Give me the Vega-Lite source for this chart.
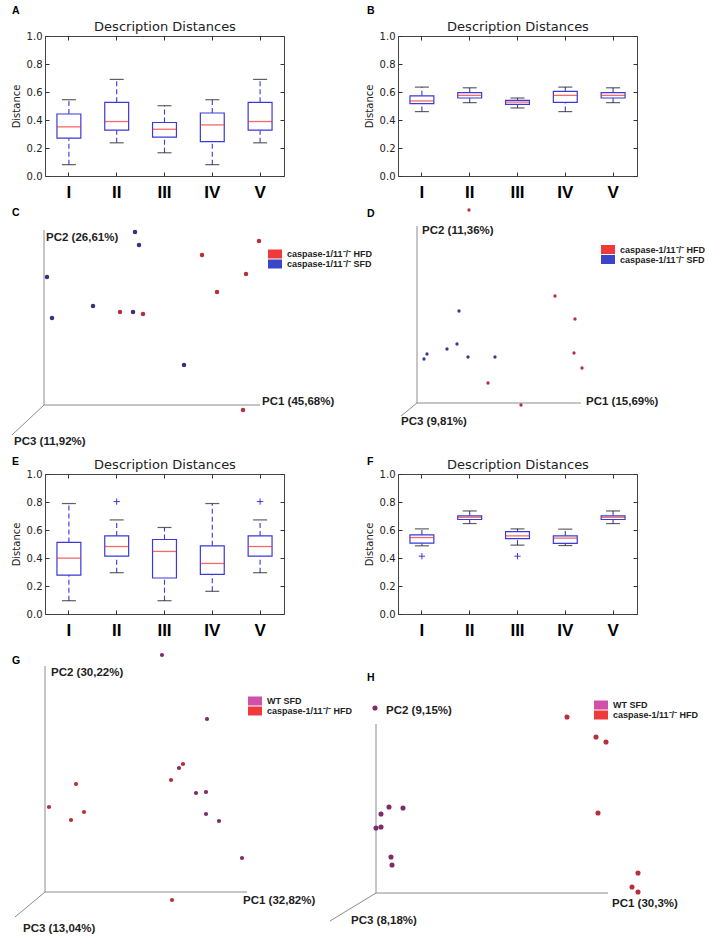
{
"$schema": "https://vega.github.io/schema/vega-lite/v6.json",
"background": "white",
"padding": {"left": 10, "top": 5, "right": 0, "bottom": 0},
"columns": 2,
"spacing": {"row": 26, "column": 114},
"bounds": "flush",
"align": "each",
"resolve": {"scale": {"color": "independent", "fill": "independent"}, "legend": {"color": "independent", "fill": "independent"}},
"datasets": {
"boxes": [
{"panel":"A","group":"I","min":0.081,"q1":0.270,"median":0.351,"q3":0.443,"max":0.545},
{"panel":"A","group":"II","min":0.237,"q1":0.327,"median":0.389,"q3":0.526,"max":0.690},
{"panel":"A","group":"III","min":0.166,"q1":0.277,"median":0.334,"q3":0.382,"max":0.502},
{"panel":"A","group":"IV","min":0.081,"q1":0.246,"median":0.365,"q3":0.450,"max":0.545},
{"panel":"A","group":"V","min":0.237,"q1":0.327,"median":0.389,"q3":0.526,"max":0.690},
{"panel":"B","group":"I","min":0.460,"q1":0.517,"median":0.536,"q3":0.573,"max":0.635},
{"panel":"B","group":"II","min":0.524,"q1":0.557,"median":0.576,"q3":0.595,"max":0.630},
{"panel":"B","group":"III","min":0.486,"q1":0.512,"median":0.528,"q3":0.540,"max":0.557},
{"panel":"B","group":"IV","min":0.460,"q1":0.526,"median":0.576,"q3":0.604,"max":0.635},
{"panel":"B","group":"V","min":0.524,"q1":0.557,"median":0.576,"q3":0.595,"max":0.630},
{"panel":"E","group":"I","min":0.095,"q1":0.278,"median":0.399,"q3":0.511,"max":0.789},
{"panel":"E","group":"II","min":0.295,"q1":0.413,"median":0.482,"q3":0.558,"max":0.672},
{"panel":"E","group":"III","min":0.095,"q1":0.257,"median":0.447,"q3":0.532,"max":0.618},
{"panel":"E","group":"IV","min":0.162,"q1":0.283,"median":0.361,"q3":0.487,"max":0.789},
{"panel":"E","group":"V","min":0.295,"q1":0.413,"median":0.482,"q3":0.558,"max":0.672},
{"panel":"F","group":"I","min":0.487,"q1":0.506,"median":0.546,"q3":0.565,"max":0.608},
{"panel":"F","group":"II","min":0.646,"q1":0.675,"median":0.691,"q3":0.701,"max":0.736},
{"panel":"F","group":"III","min":0.492,"q1":0.539,"median":0.558,"q3":0.589,"max":0.608},
{"panel":"F","group":"IV","min":0.489,"q1":0.504,"median":0.542,"q3":0.558,"max":0.606},
{"panel":"F","group":"V","min":0.646,"q1":0.675,"median":0.691,"q3":0.701,"max":0.736}
],
"outliers": [
{"panel":"E","group":"II","value":0.803},
{"panel":"E","group":"V","value":0.803},
{"panel":"F","group":"I","value":0.413},
{"panel":"F","group":"III","value":0.413}
],
"pca": [
{"panel":"C","group":"caspase-1/11⁻/⁻ SFD","pc1":0.91,"pc2":1.73},
{"panel":"C","group":"caspase-1/11⁻/⁻ SFD","pc1":0.95,"pc2":1.60},
{"panel":"C","group":"caspase-1/11⁻/⁻ SFD","pc1":0.03,"pc2":1.28},
{"panel":"C","group":"caspase-1/11⁻/⁻ SFD","pc1":0.49,"pc2":0.99},
{"panel":"C","group":"caspase-1/11⁻/⁻ SFD","pc1":0.08,"pc2":0.87},
{"panel":"C","group":"caspase-1/11⁻/⁻ SFD","pc1":0.89,"pc2":0.93},
{"panel":"C","group":"caspase-1/11⁻/⁻ SFD","pc1":1.40,"pc2":0.40},
{"panel":"C","group":"caspase-1/11⁻/⁻ HFD","pc1":2.15,"pc2":1.64},
{"panel":"C","group":"caspase-1/11⁻/⁻ HFD","pc1":1.58,"pc2":1.50},
{"panel":"C","group":"caspase-1/11⁻/⁻ HFD","pc1":2.02,"pc2":1.31},
{"panel":"C","group":"caspase-1/11⁻/⁻ HFD","pc1":1.73,"pc2":1.13},
{"panel":"C","group":"caspase-1/11⁻/⁻ HFD","pc1":0.76,"pc2":0.93},
{"panel":"C","group":"caspase-1/11⁻/⁻ HFD","pc1":0.99,"pc2":0.91},
{"panel":"C","group":"caspase-1/11⁻/⁻ HFD","pc1":1.99,"pc2":-0.05},
{"panel":"D","group":"caspase-1/11⁻/⁻ HFD","pc1":0.52,"pc2":1.93},
{"panel":"D","group":"caspase-1/11⁻/⁻ HFD","pc1":1.38,"pc2":1.07},
{"panel":"D","group":"caspase-1/11⁻/⁻ HFD","pc1":1.58,"pc2":0.84},
{"panel":"D","group":"caspase-1/11⁻/⁻ HFD","pc1":1.57,"pc2":0.50},
{"panel":"D","group":"caspase-1/11⁻/⁻ HFD","pc1":1.65,"pc2":0.35},
{"panel":"D","group":"caspase-1/11⁻/⁻ HFD","pc1":0.71,"pc2":0.20},
{"panel":"D","group":"caspase-1/11⁻/⁻ HFD","pc1":1.04,"pc2":-0.02},
{"panel":"D","group":"caspase-1/11⁻/⁻ SFD","pc1":0.42,"pc2":0.92},
{"panel":"D","group":"caspase-1/11⁻/⁻ SFD","pc1":0.40,"pc2":0.59},
{"panel":"D","group":"caspase-1/11⁻/⁻ SFD","pc1":0.30,"pc2":0.54},
{"panel":"D","group":"caspase-1/11⁻/⁻ SFD","pc1":0.10,"pc2":0.49},
{"panel":"D","group":"caspase-1/11⁻/⁻ SFD","pc1":0.07,"pc2":0.44},
{"panel":"D","group":"caspase-1/11⁻/⁻ SFD","pc1":0.51,"pc2":0.46},
{"panel":"D","group":"caspase-1/11⁻/⁻ SFD","pc1":0.78,"pc2":0.46},
{"panel":"G","group":"WT SFD","pc1":1.17,"pc2":2.37},
{"panel":"G","group":"WT SFD","pc1":1.62,"pc2":1.73},
{"panel":"G","group":"WT SFD","pc1":1.34,"pc2":1.24},
{"panel":"G","group":"WT SFD","pc1":1.61,"pc2":1.00},
{"panel":"G","group":"WT SFD","pc1":1.51,"pc2":0.99},
{"panel":"G","group":"WT SFD","pc1":1.61,"pc2":0.78},
{"panel":"G","group":"WT SFD","pc1":1.74,"pc2":0.71},
{"panel":"G","group":"WT SFD","pc1":1.97,"pc2":0.34},
{"panel":"G","group":"caspase-1/11⁻/⁻ HFD","pc1":1.38,"pc2":1.28},
{"panel":"G","group":"caspase-1/11⁻/⁻ HFD","pc1":1.26,"pc2":1.12},
{"panel":"G","group":"caspase-1/11⁻/⁻ HFD","pc1":1.27,"pc2":-0.08},
{"panel":"G","group":"caspase-1/11⁻/⁻ HFD","pc1":0.31,"pc2":1.08},
{"panel":"G","group":"caspase-1/11⁻/⁻ HFD","pc1":0.04,"pc2":0.85},
{"panel":"G","group":"caspase-1/11⁻/⁻ HFD","pc1":0.39,"pc2":0.80},
{"panel":"G","group":"caspase-1/11⁻/⁻ HFD","pc1":0.26,"pc2":0.72},
{"panel":"H","group":"WT SFD","pc1":-0.01,"pc2":1.85},
{"panel":"H","group":"WT SFD","pc1":0.13,"pc2":0.86},
{"panel":"H","group":"WT SFD","pc1":0.27,"pc2":0.85},
{"panel":"H","group":"WT SFD","pc1":0.05,"pc2":0.79},
{"panel":"H","group":"WT SFD","pc1":0.00,"pc2":0.65},
{"panel":"H","group":"WT SFD","pc1":0.05,"pc2":0.66},
{"panel":"H","group":"WT SFD","pc1":0.15,"pc2":0.36},
{"panel":"H","group":"WT SFD","pc1":0.16,"pc2":0.28},
{"panel":"H","group":"caspase-1/11⁻/⁻ HFD","pc1":1.91,"pc2":1.76},
{"panel":"H","group":"caspase-1/11⁻/⁻ HFD","pc1":2.20,"pc2":1.56},
{"panel":"H","group":"caspase-1/11⁻/⁻ HFD","pc1":2.30,"pc2":1.51},
{"panel":"H","group":"caspase-1/11⁻/⁻ HFD","pc1":2.22,"pc2":0.80},
{"panel":"H","group":"caspase-1/11⁻/⁻ HFD","pc1":2.62,"pc2":0.20},
{"panel":"H","group":"caspase-1/11⁻/⁻ HFD","pc1":2.56,"pc2":0.06},
{"panel":"H","group":"caspase-1/11⁻/⁻ HFD","pc1":2.62,"pc2":0.01}
],
"pcaxes": [
{"panel":"C","axis":"PC1","x":2.16,"y":0,"label":"PC1 (45,68%)","lx":2.18,"ly":0.0},
{"panel":"C","axis":"PC2","x":0,"y":1.75,"label":"PC2 (26,61%)","lx":0.02,"ly":1.64},
{"panel":"C","axis":"PC3","x":-0.32,"y":-0.30,"label":"PC3 (11,92%)","lx":-0.30,"ly":-0.40},
{"panel":"D","axis":"PC1","x":1.64,"y":0,"label":"PC1 (15,69%)","lx":1.69,"ly":-0.02},
{"panel":"D","axis":"PC2","x":0,"y":1.77,"label":"PC2 (11,36%)","lx":0.05,"ly":1.69},
{"panel":"D","axis":"PC3","x":-0.16,"y":-0.13,"label":"PC3 (9,81%)","lx":-0.16,"ly":-0.22},
{"panel":"G","axis":"PC1","x":2.02,"y":0,"label":"PC1 (32,82%)","lx":1.98,"ly":-0.12},
{"panel":"G","axis":"PC2","x":0,"y":2.26,"label":"PC2 (30,22%)","lx":0.06,"ly":2.16},
{"panel":"G","axis":"PC3","x":-0.30,"y":-0.25,"label":"PC3 (13,04%)","lx":-0.22,"ly":-0.40},
{"panel":"H","axis":"PC1","x":2.32,"y":0,"label":"PC1 (30,3%)","lx":2.36,"ly":-0.14},
{"panel":"H","axis":"PC2","x":0,"y":1.69,"label":"PC2 (9,15%)","lx":0.10,"ly":1.79},
{"panel":"H","axis":"PC3","x":-0.46,"y":-0.28,"label":"PC3 (8,18%)","lx":-0.25,"ly":-0.31}
]
},
"concat": [
{
"width": 239, "height": 140,
"view": {"stroke": "#444"},
"title": {"text": "A", "anchor": "start", "frame": "group", "dx": -33, "offset": 4, "font": "Liberation Sans", "fontSize": 10.5, "fontWeight": "bold", "color": "#000"},
"data": {"name": "boxes"},
"transform": [{"filter": "datum.panel === 'A'"}],
"resolve": {"axis": {"x": "independent", "y": "independent"}},
"layer": [
{"mark": {"type": "rule", "color": "#3a3ad6", "strokeDash": [5, 3], "strokeWidth": 1.1},
 "encoding": {
  "x": {"field": "group", "type": "nominal", "sort": ["I","II","III","IV","V"], "scale": {"type": "band", "paddingInner": 0, "paddingOuter": 0}, "axis": {"orient": "bottom", "title": null, "labelAngle": 0, "labelFont": "Liberation Sans", "labelFontWeight": "bold", "labelFontSize": 17, "labelColor": "#000", "labelPadding": 12, "tickSize": -4, "tickColor": "#333", "domain": false, "grid": false}},
  "y": {"field": "min", "type": "quantitative", "scale": {"domain": [0, 1], "nice": false, "zero": false}, "axis": {"orient": "left", "title": "Distance", "titleFont": "DejaVu Sans", "titleFontSize": 10, "titleFontWeight": "normal", "titleColor": "#222", "titlePadding": 5, "values": [0, 0.2, 0.4, 0.6, 0.8, 1], "format": ".1f", "labelFont": "DejaVu Sans", "labelFontSize": 10, "labelColor": "#222", "labelPadding": 7, "tickSize": -4, "tickColor": "#333", "domain": false, "grid": false}},
  "y2": {"field": "q1"}}},
{"mark": {"type": "rule", "color": "#3a3ad6", "strokeDash": [5, 3], "strokeWidth": 1.1},
 "encoding": {
  "x": {"field": "group", "type": "nominal", "sort": ["I","II","III","IV","V"], "scale": {"type": "band", "paddingInner": 0, "paddingOuter": 0}, "axis": {"orient": "top", "title": "Description Distances", "titleFont": "DejaVu Sans", "titleFontSize": 13, "titleFontWeight": "normal", "titleColor": "#222", "titlePadding": 2, "labels": false, "tickSize": -4, "tickColor": "#333", "domain": false, "grid": false}},
  "y": {"field": "q3", "type": "quantitative", "scale": {"domain": [0, 1], "nice": false, "zero": false}, "axis": {"orient": "right", "title": null, "labels": false, "values": [0, 0.2, 0.4, 0.6, 0.8, 1], "tickSize": -4, "tickColor": "#333", "domain": false, "grid": false}},
  "y2": {"field": "max"}}},
{"mark": {"type": "bar", "width": {"band": 0.5}, "fill": "white", "stroke": "#3a3ad6", "strokeWidth": 1.2},
 "encoding": {"x": {"field": "group", "type": "nominal", "sort": ["I","II","III","IV","V"], "scale": {"type": "band", "paddingInner": 0, "paddingOuter": 0}, "axis": null}, "y": {"field": "q1", "type": "quantitative", "scale": {"domain": [0, 1], "nice": false, "zero": false}, "axis": null}, "y2": {"field": "q3"}}},
{"mark": {"type": "tick", "color": "#1c1c1c", "size": 14, "thickness": 1.2},
 "encoding": {"x": {"field": "group", "type": "nominal", "sort": ["I","II","III","IV","V"], "scale": {"type": "band", "paddingInner": 0, "paddingOuter": 0}, "axis": null}, "y": {"field": "min", "type": "quantitative", "scale": {"domain": [0, 1], "nice": false, "zero": false}, "axis": null}}},
{"mark": {"type": "tick", "color": "#1c1c1c", "size": 14, "thickness": 1.2},
 "encoding": {"x": {"field": "group", "type": "nominal", "sort": ["I","II","III","IV","V"], "scale": {"type": "band", "paddingInner": 0, "paddingOuter": 0}, "axis": null}, "y": {"field": "max", "type": "quantitative", "scale": {"domain": [0, 1], "nice": false, "zero": false}, "axis": null}}},
{"mark": {"type": "tick", "color": "#ee2b2b", "size": 24, "thickness": 1.3},
 "encoding": {"x": {"field": "group", "type": "nominal", "sort": ["I","II","III","IV","V"], "scale": {"type": "band", "paddingInner": 0, "paddingOuter": 0}, "axis": null}, "y": {"field": "median", "type": "quantitative", "scale": {"domain": [0, 1], "nice": false, "zero": false}, "axis": null}}}
]
},
{
"width": 239, "height": 140,
"view": {"stroke": "#444"},
"title": {"text": "B", "anchor": "start", "frame": "group", "dx": -31, "offset": 4, "font": "Liberation Sans", "fontSize": 10.5, "fontWeight": "bold", "color": "#000"},
"data": {"name": "boxes"},
"transform": [{"filter": "datum.panel === 'B'"}],
"resolve": {"axis": {"x": "independent", "y": "independent"}},
"layer": [
{"mark": {"type": "rule", "color": "#3a3ad6", "strokeDash": [5, 3], "strokeWidth": 1.1},
 "encoding": {
  "x": {"field": "group", "type": "nominal", "sort": ["I","II","III","IV","V"], "scale": {"type": "band", "paddingInner": 0, "paddingOuter": 0}, "axis": {"orient": "bottom", "title": null, "labelAngle": 0, "labelFont": "Liberation Sans", "labelFontWeight": "bold", "labelFontSize": 17, "labelColor": "#000", "labelPadding": 12, "tickSize": -4, "tickColor": "#333", "domain": false, "grid": false}},
  "y": {"field": "min", "type": "quantitative", "scale": {"domain": [0, 1], "nice": false, "zero": false}, "axis": {"orient": "left", "title": "Distance", "titleFont": "DejaVu Sans", "titleFontSize": 10, "titleFontWeight": "normal", "titleColor": "#222", "titlePadding": 5, "values": [0, 0.2, 0.4, 0.6, 0.8, 1], "format": ".1f", "labelFont": "DejaVu Sans", "labelFontSize": 10, "labelColor": "#222", "labelPadding": 7, "tickSize": -4, "tickColor": "#333", "domain": false, "grid": false}},
  "y2": {"field": "q1"}}},
{"mark": {"type": "rule", "color": "#3a3ad6", "strokeDash": [5, 3], "strokeWidth": 1.1},
 "encoding": {
  "x": {"field": "group", "type": "nominal", "sort": ["I","II","III","IV","V"], "scale": {"type": "band", "paddingInner": 0, "paddingOuter": 0}, "axis": {"orient": "top", "title": "Description Distances", "titleFont": "DejaVu Sans", "titleFontSize": 13, "titleFontWeight": "normal", "titleColor": "#222", "titlePadding": 2, "labels": false, "tickSize": -4, "tickColor": "#333", "domain": false, "grid": false}},
  "y": {"field": "q3", "type": "quantitative", "scale": {"domain": [0, 1], "nice": false, "zero": false}, "axis": {"orient": "right", "title": null, "labels": false, "values": [0, 0.2, 0.4, 0.6, 0.8, 1], "tickSize": -4, "tickColor": "#333", "domain": false, "grid": false}},
  "y2": {"field": "max"}}},
{"mark": {"type": "bar", "width": {"band": 0.5}, "fill": "white", "stroke": "#3a3ad6", "strokeWidth": 1.2},
 "encoding": {"x": {"field": "group", "type": "nominal", "sort": ["I","II","III","IV","V"], "scale": {"type": "band", "paddingInner": 0, "paddingOuter": 0}, "axis": null}, "y": {"field": "q1", "type": "quantitative", "scale": {"domain": [0, 1], "nice": false, "zero": false}, "axis": null}, "y2": {"field": "q3"}}},
{"mark": {"type": "tick", "color": "#1c1c1c", "size": 14, "thickness": 1.2},
 "encoding": {"x": {"field": "group", "type": "nominal", "sort": ["I","II","III","IV","V"], "scale": {"type": "band", "paddingInner": 0, "paddingOuter": 0}, "axis": null}, "y": {"field": "min", "type": "quantitative", "scale": {"domain": [0, 1], "nice": false, "zero": false}, "axis": null}}},
{"mark": {"type": "tick", "color": "#1c1c1c", "size": 14, "thickness": 1.2},
 "encoding": {"x": {"field": "group", "type": "nominal", "sort": ["I","II","III","IV","V"], "scale": {"type": "band", "paddingInner": 0, "paddingOuter": 0}, "axis": null}, "y": {"field": "max", "type": "quantitative", "scale": {"domain": [0, 1], "nice": false, "zero": false}, "axis": null}}},
{"mark": {"type": "tick", "color": "#ee2b2b", "size": 24, "thickness": 1.3},
 "encoding": {"x": {"field": "group", "type": "nominal", "sort": ["I","II","III","IV","V"], "scale": {"type": "band", "paddingInner": 0, "paddingOuter": 0}, "axis": null}, "y": {"field": "median", "type": "quantitative", "scale": {"domain": [0, 1], "nice": false, "zero": false}, "axis": null}}}
]
},
{
"width": 239, "height": 246,
"title": {"text": "C", "anchor": "start", "frame": "group", "dx": -33, "offset": -16.5, "font": "Liberation Sans", "fontSize": 10.5, "fontWeight": "bold", "color": "#000"},
"layer": [
{"data": {"name": "pcaxes"}, "transform": [{"filter": "datum.panel === 'C'"}],
 "mark": {"type": "rule", "color": "#8c8c8c", "strokeWidth": 1},
 "encoding": {"x": {"field": "x", "type": "quantitative", "scale": {"domain": [0.01, 2.40], "nice": false, "zero": false}, "axis": null}, "y": {"field": "y", "type": "quantitative", "scale": {"domain": [-0.43, 2.03], "nice": false, "zero": false}, "axis": null}, "x2": {"datum": 0}, "y2": {"datum": 0}}},
{"data": {"name": "pcaxes"}, "transform": [{"filter": "datum.panel === 'C'"}],
 "mark": {"type": "text", "align": "left", "baseline": "alphabetic", "font": "Liberation Sans", "fontWeight": "bold", "fontSize": 11.5, "color": "#1e1e1e"},
 "encoding": {"x": {"field": "lx", "type": "quantitative", "scale": {"domain": [0.01, 2.40], "nice": false, "zero": false}, "axis": null}, "y": {"field": "ly", "type": "quantitative", "scale": {"domain": [-0.43, 2.03], "nice": false, "zero": false}, "axis": null}, "text": {"field": "label", "type": "nominal"}}},
{"data": {"name": "pca"}, "transform": [{"filter": "datum.panel === 'C'"}],
 "mark": {"type": "circle", "size": 6, "opacity": 1},
 "encoding": {"x": {"field": "pc1", "type": "quantitative", "scale": {"domain": [0.01, 2.40], "nice": false, "zero": false}, "axis": null}, "y": {"field": "pc2", "type": "quantitative", "scale": {"domain": [-0.43, 2.03], "nice": false, "zero": false}, "axis": null},
  "color": {"field": "group", "type": "nominal", "scale": {"domain": ["caspase-1/11⁻/⁻ HFD", "caspase-1/11⁻/⁻ SFD"], "range": ["#f03a3a", "#3b45c8"]},
   "legend": {"orient": "none", "legendX": 225, "legendY": 47, "title": null, "symbolType": "M-1.4,-0.9H1.4V0.9H-1.4Z", "symbolSize": 100, "symbolStrokeWidth": 0, "symbolOpacity": 1, "labelFont": "Liberation Sans", "labelFontWeight": "bold", "labelFontSize": 9, "labelColor": "#222", "labelOffset": 7, "rowPadding": 0, "padding": 0}}}},
{"data": {"name": "pca"}, "transform": [{"filter": "datum.panel === 'C'"}],
 "mark": {"type": "circle", "size": 20, "opacity": 1},
 "encoding": {"x": {"field": "pc1", "type": "quantitative", "scale": {"domain": [0.01, 2.40], "nice": false, "zero": false}, "axis": null}, "y": {"field": "pc2", "type": "quantitative", "scale": {"domain": [-0.43, 2.03], "nice": false, "zero": false}, "axis": null},
  "fill": {"field": "group", "type": "nominal", "scale": {"domain": ["caspase-1/11⁻/⁻ HFD", "caspase-1/11⁻/⁻ SFD"], "range": ["#b8303a", "#33337f"]}, "legend": null}}}
]
},
{
"width": 239, "height": 246,
"title": {"text": "D", "anchor": "start", "frame": "group", "dx": -31, "offset": -17.2, "font": "Liberation Sans", "fontSize": 10.5, "fontWeight": "bold", "color": "#000"},
"layer": [
{"data": {"name": "pcaxes"}, "transform": [{"filter": "datum.panel === 'D'"}],
 "mark": {"type": "rule", "color": "#8c8c8c", "strokeWidth": 1},
 "encoding": {"x": {"field": "x", "type": "quantitative", "scale": {"domain": [-0.19, 2.20], "nice": false, "zero": false}, "axis": null}, "y": {"field": "y", "type": "quantitative", "scale": {"domain": [-0.45, 2.01], "nice": false, "zero": false}, "axis": null}, "x2": {"datum": 0}, "y2": {"datum": 0}}},
{"data": {"name": "pcaxes"}, "transform": [{"filter": "datum.panel === 'D'"}],
 "mark": {"type": "text", "align": "left", "baseline": "alphabetic", "font": "Liberation Sans", "fontWeight": "bold", "fontSize": 11.5, "color": "#1e1e1e"},
 "encoding": {"x": {"field": "lx", "type": "quantitative", "scale": {"domain": [-0.19, 2.20], "nice": false, "zero": false}, "axis": null}, "y": {"field": "ly", "type": "quantitative", "scale": {"domain": [-0.45, 2.01], "nice": false, "zero": false}, "axis": null}, "text": {"field": "label", "type": "nominal"}}},
{"data": {"name": "pca"}, "transform": [{"filter": "datum.panel === 'D'"}],
 "mark": {"type": "circle", "size": 3, "opacity": 1},
 "encoding": {"x": {"field": "pc1", "type": "quantitative", "scale": {"domain": [-0.19, 2.20], "nice": false, "zero": false}, "axis": null}, "y": {"field": "pc2", "type": "quantitative", "scale": {"domain": [-0.45, 2.01], "nice": false, "zero": false}, "axis": null},
  "color": {"field": "group", "type": "nominal", "scale": {"domain": ["caspase-1/11⁻/⁻ HFD", "caspase-1/11⁻/⁻ SFD"], "range": ["#f03a3a", "#3b45c8"]},
   "legend": {"orient": "none", "legendX": 205, "legendY": 42.5, "title": null, "symbolType": "M-1.4,-0.9H1.4V0.9H-1.4Z", "symbolSize": 100, "symbolStrokeWidth": 0, "symbolOpacity": 1, "labelFont": "Liberation Sans", "labelFontWeight": "bold", "labelFontSize": 9, "labelColor": "#222", "labelOffset": 7, "rowPadding": 0, "padding": 0}}}},
{"data": {"name": "pca"}, "transform": [{"filter": "datum.panel === 'D'"}],
 "mark": {"type": "circle", "size": 11, "opacity": 1},
 "encoding": {"x": {"field": "pc1", "type": "quantitative", "scale": {"domain": [-0.19, 2.20], "nice": false, "zero": false}, "axis": null}, "y": {"field": "pc2", "type": "quantitative", "scale": {"domain": [-0.45, 2.01], "nice": false, "zero": false}, "axis": null},
  "fill": {"field": "group", "type": "nominal", "scale": {"domain": ["caspase-1/11⁻/⁻ HFD", "caspase-1/11⁻/⁻ SFD"], "range": ["#b8303a", "#3a3a8a"]}, "legend": null}}}
]
},
{
"width": 239, "height": 140,
"view": {"stroke": "#444"},
"title": {"text": "E", "anchor": "start", "frame": "group", "dx": -33, "offset": -8.9, "font": "Liberation Sans", "fontSize": 10.5, "fontWeight": "bold", "color": "#000"},
"data": {"name": "boxes"},
"transform": [{"filter": "datum.panel === 'E'"}],
"resolve": {"axis": {"x": "independent", "y": "independent"}},
"layer": [
{"mark": {"type": "rule", "color": "#3a3ad6", "strokeDash": [5, 3], "strokeWidth": 1.1},
 "encoding": {
  "x": {"field": "group", "type": "nominal", "sort": ["I","II","III","IV","V"], "scale": {"type": "band", "paddingInner": 0, "paddingOuter": 0}, "axis": {"orient": "bottom", "title": null, "labelAngle": 0, "labelFont": "Liberation Sans", "labelFontWeight": "bold", "labelFontSize": 17, "labelColor": "#000", "labelPadding": 12, "tickSize": -4, "tickColor": "#333", "domain": false, "grid": false}},
  "y": {"field": "min", "type": "quantitative", "scale": {"domain": [0, 1], "nice": false, "zero": false}, "axis": {"orient": "left", "title": "Distance", "titleFont": "DejaVu Sans", "titleFontSize": 10, "titleFontWeight": "normal", "titleColor": "#222", "titlePadding": 5, "values": [0, 0.2, 0.4, 0.6, 0.8, 1], "format": ".1f", "labelFont": "DejaVu Sans", "labelFontSize": 10, "labelColor": "#222", "labelPadding": 7, "tickSize": -4, "tickColor": "#333", "domain": false, "grid": false}},
  "y2": {"field": "q1"}}},
{"mark": {"type": "rule", "color": "#3a3ad6", "strokeDash": [5, 3], "strokeWidth": 1.1},
 "encoding": {
  "x": {"field": "group", "type": "nominal", "sort": ["I","II","III","IV","V"], "scale": {"type": "band", "paddingInner": 0, "paddingOuter": 0}, "axis": {"orient": "top", "title": "Description Distances", "titleFont": "DejaVu Sans", "titleFontSize": 13, "titleFontWeight": "normal", "titleColor": "#222", "titlePadding": 2, "labels": false, "tickSize": -4, "tickColor": "#333", "domain": false, "grid": false}},
  "y": {"field": "q3", "type": "quantitative", "scale": {"domain": [0, 1], "nice": false, "zero": false}, "axis": {"orient": "right", "title": null, "labels": false, "values": [0, 0.2, 0.4, 0.6, 0.8, 1], "tickSize": -4, "tickColor": "#333", "domain": false, "grid": false}},
  "y2": {"field": "max"}}},
{"mark": {"type": "bar", "width": {"band": 0.5}, "fill": "white", "stroke": "#3a3ad6", "strokeWidth": 1.2},
 "encoding": {"x": {"field": "group", "type": "nominal", "sort": ["I","II","III","IV","V"], "scale": {"type": "band", "paddingInner": 0, "paddingOuter": 0}, "axis": null}, "y": {"field": "q1", "type": "quantitative", "scale": {"domain": [0, 1], "nice": false, "zero": false}, "axis": null}, "y2": {"field": "q3"}}},
{"mark": {"type": "tick", "color": "#1c1c1c", "size": 14, "thickness": 1.2},
 "encoding": {"x": {"field": "group", "type": "nominal", "sort": ["I","II","III","IV","V"], "scale": {"type": "band", "paddingInner": 0, "paddingOuter": 0}, "axis": null}, "y": {"field": "min", "type": "quantitative", "scale": {"domain": [0, 1], "nice": false, "zero": false}, "axis": null}}},
{"mark": {"type": "tick", "color": "#1c1c1c", "size": 14, "thickness": 1.2},
 "encoding": {"x": {"field": "group", "type": "nominal", "sort": ["I","II","III","IV","V"], "scale": {"type": "band", "paddingInner": 0, "paddingOuter": 0}, "axis": null}, "y": {"field": "max", "type": "quantitative", "scale": {"domain": [0, 1], "nice": false, "zero": false}, "axis": null}}},
{"mark": {"type": "tick", "color": "#ee2b2b", "size": 24, "thickness": 1.3},
 "encoding": {"x": {"field": "group", "type": "nominal", "sort": ["I","II","III","IV","V"], "scale": {"type": "band", "paddingInner": 0, "paddingOuter": 0}, "axis": null}, "y": {"field": "median", "type": "quantitative", "scale": {"domain": [0, 1], "nice": false, "zero": false}, "axis": null}}},
{"data": {"name": "outliers"}, "transform": [{"filter": "datum.panel === 'E'"}],
 "mark": {"type": "point", "shape": "M-1,0H1M0,-1V1", "filled": false, "size": 40, "color": "#3a3ad6", "strokeWidth": 1, "opacity": 1},
 "encoding": {"x": {"field": "group", "type": "nominal", "sort": ["I","II","III","IV","V"], "scale": {"type": "band", "paddingInner": 0, "paddingOuter": 0}, "axis": null}, "y": {"field": "value", "type": "quantitative", "scale": {"domain": [0, 1], "nice": false, "zero": false}, "axis": null}}}
]
},
{
"width": 239, "height": 140,
"view": {"stroke": "#444"},
"title": {"text": "F", "anchor": "start", "frame": "group", "dx": -31, "offset": -8.9, "font": "Liberation Sans", "fontSize": 10.5, "fontWeight": "bold", "color": "#000"},
"data": {"name": "boxes"},
"transform": [{"filter": "datum.panel === 'F'"}],
"resolve": {"axis": {"x": "independent", "y": "independent"}},
"layer": [
{"mark": {"type": "rule", "color": "#3a3ad6", "strokeDash": [5, 3], "strokeWidth": 1.1},
 "encoding": {
  "x": {"field": "group", "type": "nominal", "sort": ["I","II","III","IV","V"], "scale": {"type": "band", "paddingInner": 0, "paddingOuter": 0}, "axis": {"orient": "bottom", "title": null, "labelAngle": 0, "labelFont": "Liberation Sans", "labelFontWeight": "bold", "labelFontSize": 17, "labelColor": "#000", "labelPadding": 12, "tickSize": -4, "tickColor": "#333", "domain": false, "grid": false}},
  "y": {"field": "min", "type": "quantitative", "scale": {"domain": [0, 1], "nice": false, "zero": false}, "axis": {"orient": "left", "title": "Distance", "titleFont": "DejaVu Sans", "titleFontSize": 10, "titleFontWeight": "normal", "titleColor": "#222", "titlePadding": 5, "values": [0, 0.2, 0.4, 0.6, 0.8, 1], "format": ".1f", "labelFont": "DejaVu Sans", "labelFontSize": 10, "labelColor": "#222", "labelPadding": 7, "tickSize": -4, "tickColor": "#333", "domain": false, "grid": false}},
  "y2": {"field": "q1"}}},
{"mark": {"type": "rule", "color": "#3a3ad6", "strokeDash": [5, 3], "strokeWidth": 1.1},
 "encoding": {
  "x": {"field": "group", "type": "nominal", "sort": ["I","II","III","IV","V"], "scale": {"type": "band", "paddingInner": 0, "paddingOuter": 0}, "axis": {"orient": "top", "title": "Description Distances", "titleFont": "DejaVu Sans", "titleFontSize": 13, "titleFontWeight": "normal", "titleColor": "#222", "titlePadding": 2, "labels": false, "tickSize": -4, "tickColor": "#333", "domain": false, "grid": false}},
  "y": {"field": "q3", "type": "quantitative", "scale": {"domain": [0, 1], "nice": false, "zero": false}, "axis": {"orient": "right", "title": null, "labels": false, "values": [0, 0.2, 0.4, 0.6, 0.8, 1], "tickSize": -4, "tickColor": "#333", "domain": false, "grid": false}},
  "y2": {"field": "max"}}},
{"mark": {"type": "bar", "width": {"band": 0.5}, "fill": "white", "stroke": "#3a3ad6", "strokeWidth": 1.2},
 "encoding": {"x": {"field": "group", "type": "nominal", "sort": ["I","II","III","IV","V"], "scale": {"type": "band", "paddingInner": 0, "paddingOuter": 0}, "axis": null}, "y": {"field": "q1", "type": "quantitative", "scale": {"domain": [0, 1], "nice": false, "zero": false}, "axis": null}, "y2": {"field": "q3"}}},
{"mark": {"type": "tick", "color": "#1c1c1c", "size": 14, "thickness": 1.2},
 "encoding": {"x": {"field": "group", "type": "nominal", "sort": ["I","II","III","IV","V"], "scale": {"type": "band", "paddingInner": 0, "paddingOuter": 0}, "axis": null}, "y": {"field": "min", "type": "quantitative", "scale": {"domain": [0, 1], "nice": false, "zero": false}, "axis": null}}},
{"mark": {"type": "tick", "color": "#1c1c1c", "size": 14, "thickness": 1.2},
 "encoding": {"x": {"field": "group", "type": "nominal", "sort": ["I","II","III","IV","V"], "scale": {"type": "band", "paddingInner": 0, "paddingOuter": 0}, "axis": null}, "y": {"field": "max", "type": "quantitative", "scale": {"domain": [0, 1], "nice": false, "zero": false}, "axis": null}}},
{"mark": {"type": "tick", "color": "#ee2b2b", "size": 24, "thickness": 1.3},
 "encoding": {"x": {"field": "group", "type": "nominal", "sort": ["I","II","III","IV","V"], "scale": {"type": "band", "paddingInner": 0, "paddingOuter": 0}, "axis": null}, "y": {"field": "median", "type": "quantitative", "scale": {"domain": [0, 1], "nice": false, "zero": false}, "axis": null}}},
{"data": {"name": "outliers"}, "transform": [{"filter": "datum.panel === 'F'"}],
 "mark": {"type": "point", "shape": "M-1,0H1M0,-1V1", "filled": false, "size": 40, "color": "#3a3ad6", "strokeWidth": 1, "opacity": 1},
 "encoding": {"x": {"field": "group", "type": "nominal", "sort": ["I","II","III","IV","V"], "scale": {"type": "band", "paddingInner": 0, "paddingOuter": 0}, "axis": null}, "y": {"field": "value", "type": "quantitative", "scale": {"domain": [0, 1], "nice": false, "zero": false}, "axis": null}}}
]
},
{
"width": 239, "height": 290,
"title": {"text": "G", "anchor": "start", "frame": "group", "dx": -33, "offset": -26.9, "font": "Liberation Sans", "fontSize": 10.5, "fontWeight": "bold", "color": "#000"},
"layer": [
{"data": {"name": "pcaxes"}, "transform": [{"filter": "datum.panel === 'G'"}],
 "mark": {"type": "rule", "color": "#8c8c8c", "strokeWidth": 1},
 "encoding": {"x": {"field": "x", "type": "quantitative", "scale": {"domain": [0.0, 2.39], "nice": false, "zero": false}, "axis": null}, "y": {"field": "y", "type": "quantitative", "scale": {"domain": [-0.38, 2.52], "nice": false, "zero": false}, "axis": null}, "x2": {"datum": 0}, "y2": {"datum": 0}}},
{"data": {"name": "pcaxes"}, "transform": [{"filter": "datum.panel === 'G'"}],
 "mark": {"type": "text", "align": "left", "baseline": "alphabetic", "font": "Liberation Sans", "fontWeight": "bold", "fontSize": 11.5, "color": "#1e1e1e"},
 "encoding": {"x": {"field": "lx", "type": "quantitative", "scale": {"domain": [0.0, 2.39], "nice": false, "zero": false}, "axis": null}, "y": {"field": "ly", "type": "quantitative", "scale": {"domain": [-0.38, 2.52], "nice": false, "zero": false}, "axis": null}, "text": {"field": "label", "type": "nominal"}}},
{"data": {"name": "pca"}, "transform": [{"filter": "datum.panel === 'G'"}],
 "mark": {"type": "circle", "size": 5, "opacity": 1},
 "encoding": {"x": {"field": "pc1", "type": "quantitative", "scale": {"domain": [0.0, 2.39], "nice": false, "zero": false}, "axis": null}, "y": {"field": "pc2", "type": "quantitative", "scale": {"domain": [-0.38, 2.52], "nice": false, "zero": false}, "axis": null},
  "color": {"field": "group", "type": "nominal", "scale": {"domain": ["WT SFD", "caspase-1/11⁻/⁻ HFD"], "range": ["#cf52a8", "#f03a3a"]},
   "legend": {"orient": "none", "legendX": 205, "legendY": 56, "title": null, "symbolType": "M-1.4,-0.9H1.4V0.9H-1.4Z", "symbolSize": 100, "symbolStrokeWidth": 0, "symbolOpacity": 1, "labelFont": "Liberation Sans", "labelFontWeight": "bold", "labelFontSize": 9, "labelColor": "#222", "labelOffset": 7, "rowPadding": 0, "padding": 0}}}},
{"data": {"name": "pca"}, "transform": [{"filter": "datum.panel === 'G'"}],
 "mark": {"type": "circle", "size": 18, "opacity": 1},
 "encoding": {"x": {"field": "pc1", "type": "quantitative", "scale": {"domain": [0.0, 2.39], "nice": false, "zero": false}, "axis": null}, "y": {"field": "pc2", "type": "quantitative", "scale": {"domain": [-0.38, 2.52], "nice": false, "zero": false}, "axis": null},
  "fill": {"field": "group", "type": "nominal", "scale": {"domain": ["WT SFD", "caspase-1/11⁻/⁻ HFD"], "range": ["#7e2c68", "#b5303a"]}, "legend": null}}}
]
},
{
"width": 239, "height": 290,
"title": {"text": "H", "anchor": "start", "frame": "group", "dx": -31, "offset": -43, "font": "Liberation Sans", "fontSize": 10.5, "fontWeight": "bold", "color": "#000"},
"layer": [
{"data": {"name": "pcaxes"}, "transform": [{"filter": "datum.panel === 'H'"}],
 "mark": {"type": "rule", "color": "#8c8c8c", "strokeWidth": 1},
 "encoding": {"x": {"field": "x", "type": "quantitative", "scale": {"domain": [0.22, 2.61], "nice": false, "zero": false}, "axis": null}, "y": {"field": "y", "type": "quantitative", "scale": {"domain": [-0.37, 2.53], "nice": false, "zero": false}, "axis": null}, "x2": {"datum": 0}, "y2": {"datum": 0}}},
{"data": {"name": "pcaxes"}, "transform": [{"filter": "datum.panel === 'H'"}],
 "mark": {"type": "text", "align": "left", "baseline": "alphabetic", "font": "Liberation Sans", "fontWeight": "bold", "fontSize": 11.5, "color": "#1e1e1e"},
 "encoding": {"x": {"field": "lx", "type": "quantitative", "scale": {"domain": [0.22, 2.61], "nice": false, "zero": false}, "axis": null}, "y": {"field": "ly", "type": "quantitative", "scale": {"domain": [-0.37, 2.53], "nice": false, "zero": false}, "axis": null}, "text": {"field": "label", "type": "nominal"}}},
{"data": {"name": "pca"}, "transform": [{"filter": "datum.panel === 'H'"}],
 "mark": {"type": "circle", "size": 6, "opacity": 1},
 "encoding": {"x": {"field": "pc1", "type": "quantitative", "scale": {"domain": [0.22, 2.61], "nice": false, "zero": false}, "axis": null}, "y": {"field": "pc2", "type": "quantitative", "scale": {"domain": [-0.37, 2.53], "nice": false, "zero": false}, "axis": null},
  "color": {"field": "group", "type": "nominal", "scale": {"domain": ["WT SFD", "caspase-1/11⁻/⁻ HFD"], "range": ["#cf52a8", "#f03a3a"]},
   "legend": {"orient": "none", "legendX": 198, "legendY": 60, "title": null, "symbolType": "M-1.4,-0.9H1.4V0.9H-1.4Z", "symbolSize": 100, "symbolStrokeWidth": 0, "symbolOpacity": 1, "labelFont": "Liberation Sans", "labelFontWeight": "bold", "labelFontSize": 9, "labelColor": "#222", "labelOffset": 7, "rowPadding": 0, "padding": 0}}}},
{"data": {"name": "pca"}, "transform": [{"filter": "datum.panel === 'H'"}],
 "mark": {"type": "circle", "size": 26, "opacity": 1},
 "encoding": {"x": {"field": "pc1", "type": "quantitative", "scale": {"domain": [0.22, 2.61], "nice": false, "zero": false}, "axis": null}, "y": {"field": "pc2", "type": "quantitative", "scale": {"domain": [-0.37, 2.53], "nice": false, "zero": false}, "axis": null},
  "fill": {"field": "group", "type": "nominal", "scale": {"domain": ["WT SFD", "caspase-1/11⁻/⁻ HFD"], "range": ["#7e2c68", "#b5303a"]}, "legend": null}}}
]
}
],
"config": {"view": {"stroke": null}, "font": "Liberation Sans", "axis": {"grid": false}}
}
